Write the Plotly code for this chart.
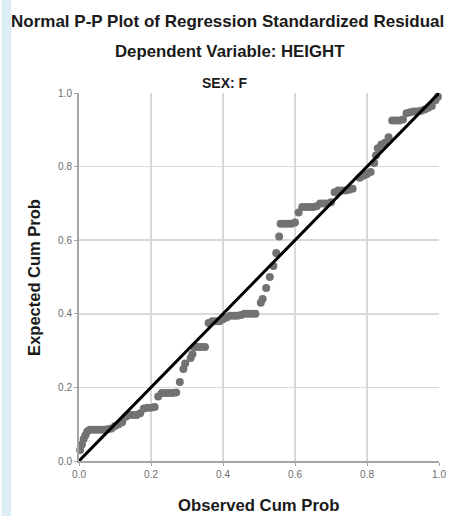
import plotly.graph_objects as go

observed = [0.003, 0.008, 0.013, 0.018, 0.023, 0.03, 0.04, 0.05, 0.06, 0.07,
            0.08, 0.09, 0.10, 0.11, 0.12, 0.13, 0.14, 0.15, 0.16, 0.17,
            0.18, 0.19, 0.20, 0.21, 0.22, 0.23, 0.24, 0.25, 0.26, 0.27,
            0.28, 0.29, 0.295, 0.31, 0.315, 0.32, 0.33, 0.34, 0.35, 0.36,
            0.37, 0.38, 0.39, 0.40, 0.41, 0.42, 0.43, 0.44, 0.45, 0.46,
            0.47, 0.48, 0.49, 0.505, 0.51, 0.52, 0.53, 0.54, 0.548, 0.556,
            0.56, 0.57, 0.58, 0.59, 0.60, 0.61, 0.62, 0.63, 0.64, 0.65,
            0.66, 0.67, 0.68, 0.69, 0.70, 0.71, 0.72, 0.73, 0.74, 0.75,
            0.76, 0.78, 0.79, 0.80, 0.81, 0.82, 0.825, 0.83, 0.84, 0.85,
            0.86, 0.87, 0.88, 0.89, 0.90, 0.91, 0.92, 0.93, 0.94, 0.95,
            0.96, 0.97, 0.98, 0.99, 0.997]
expected = [0.03, 0.045, 0.06, 0.07, 0.08, 0.085, 0.085, 0.085, 0.085, 0.085,
            0.086, 0.088, 0.095, 0.10, 0.105, 0.12, 0.125, 0.125, 0.125, 0.13,
            0.143, 0.145, 0.145, 0.147, 0.175, 0.185, 0.185, 0.185, 0.185, 0.186,
            0.215, 0.25, 0.265, 0.28, 0.29, 0.31, 0.31, 0.31, 0.31, 0.375,
            0.38, 0.38, 0.38, 0.385, 0.39, 0.395, 0.395, 0.395, 0.397, 0.40,
            0.40, 0.40, 0.40, 0.43, 0.44, 0.47, 0.50, 0.53, 0.565, 0.61,
            0.645, 0.645, 0.645, 0.645, 0.648, 0.675, 0.69, 0.69, 0.69, 0.69,
            0.692, 0.70, 0.70, 0.70, 0.703, 0.73, 0.735, 0.735, 0.735, 0.737,
            0.74, 0.77, 0.775, 0.78, 0.785, 0.81, 0.83, 0.85, 0.86, 0.865,
            0.88, 0.925, 0.925, 0.925, 0.928, 0.945, 0.948, 0.95, 0.95, 0.952,
            0.955, 0.96, 0.965, 0.98, 0.99]
ref_line = [0.0, 1.0]
tick_vals = [0.0, 0.2, 0.4, 0.6, 0.8, 1.0]
tick_text = ["0.0", "0.2", "0.4", "0.6", "0.8", "1.0"]

title1 = "Normal P-P Plot of Regression Standardized Residual"
title2 = "Dependent Variable: HEIGHT"
title3 = "SEX: F"
x_title = "Observed Cum Prob"
y_title = "Expected Cum Prob"

W, H = 457, 516
ml, mr, mt, mb = 79, 11, 93, 55
pw, ph = W - ml - mr, H - mt - mb

def py(p):
    return (H - mb - p) / ph

def px(p):
    return (p - ml) / pw

fig = go.Figure()
fig.add_trace(go.Scatter(
    x=observed, y=expected, mode="markers",
    marker=dict(color="#727272", size=8, line=dict(width=0)),
    cliponaxis=False, showlegend=False, hoverinfo="skip"))
fig.add_trace(go.Scatter(
    x=ref_line, y=ref_line, mode="lines",
    line=dict(color="#000000", width=3),
    cliponaxis=False, showlegend=False, hoverinfo="skip"))

font_fam = "Liberation Sans, Arial, sans-serif"
axis_common = dict(
    range=[0, 1], tickvals=tick_vals, ticktext=tick_text,
    showgrid=True, gridcolor="#d9d9d9", gridwidth=1.5,
    zeroline=False, showline=True, linecolor="#a6a6a6", linewidth=2,
    ticks="outside", ticklen=3, tickcolor="#a6a6a6", tickwidth=1,
    tickfont=dict(family=font_fam, size=10, color="#6b6b6b"),
    fixedrange=True,
)
fig.update_layout(
    width=W, height=H,
    margin=dict(l=ml, r=mr, t=mt, b=mb, pad=0),
    paper_bgcolor="#ffffff", plot_bgcolor="#ffffff",
    xaxis=axis_common,
    yaxis=axis_common,
    showlegend=False,
    shapes=[dict(type="rect", xref="paper", yref="paper",
                 x0=px(0), x1=px(10), y0=py(H), y1=py(0),
                 fillcolor="#dcedf5", line=dict(width=0), layer="below")],
    annotations=[
        dict(text=f"<b>{title1}</b>", xref="paper", yref="paper",
             x=px(230), y=py(21), showarrow=False, xanchor="center", yanchor="middle",
             font=dict(family=font_fam, size=17, color="#1a1a1a")),
        dict(text=f"<b>{title2}</b>", xref="paper", yref="paper",
             x=px(233), y=py(52), showarrow=False, xanchor="center", yanchor="middle",
             font=dict(family=font_fam, size=16.8, color="#1a1a1a")),
        dict(text=f"<b>{title3}</b>", xref="paper", yref="paper",
             x=px(228), y=py(83), showarrow=False, xanchor="center", yanchor="middle",
             font=dict(family=font_fam, size=14, color="#1a1a1a")),
        dict(text=f"<b>{x_title}</b>", xref="paper", yref="paper",
             x=px(262), y=py(505), showarrow=False, xanchor="center", yanchor="middle",
             font=dict(family=font_fam, size=16.7, color="#1a1a1a")),
        dict(text=f"<b>{y_title}</b>", xref="paper", yref="paper",
             x=px(33), y=py(277), showarrow=False, xanchor="center", yanchor="middle",
             textangle=-90,
             font=dict(family=font_fam, size=16.5, color="#1a1a1a")),
    ],
)
fig.write_html("out.html",
               config={"displayModeBar": False, "staticPlot": True},
               post_script="document.body.style.margin='0';document.body.style.overflow='hidden';")
